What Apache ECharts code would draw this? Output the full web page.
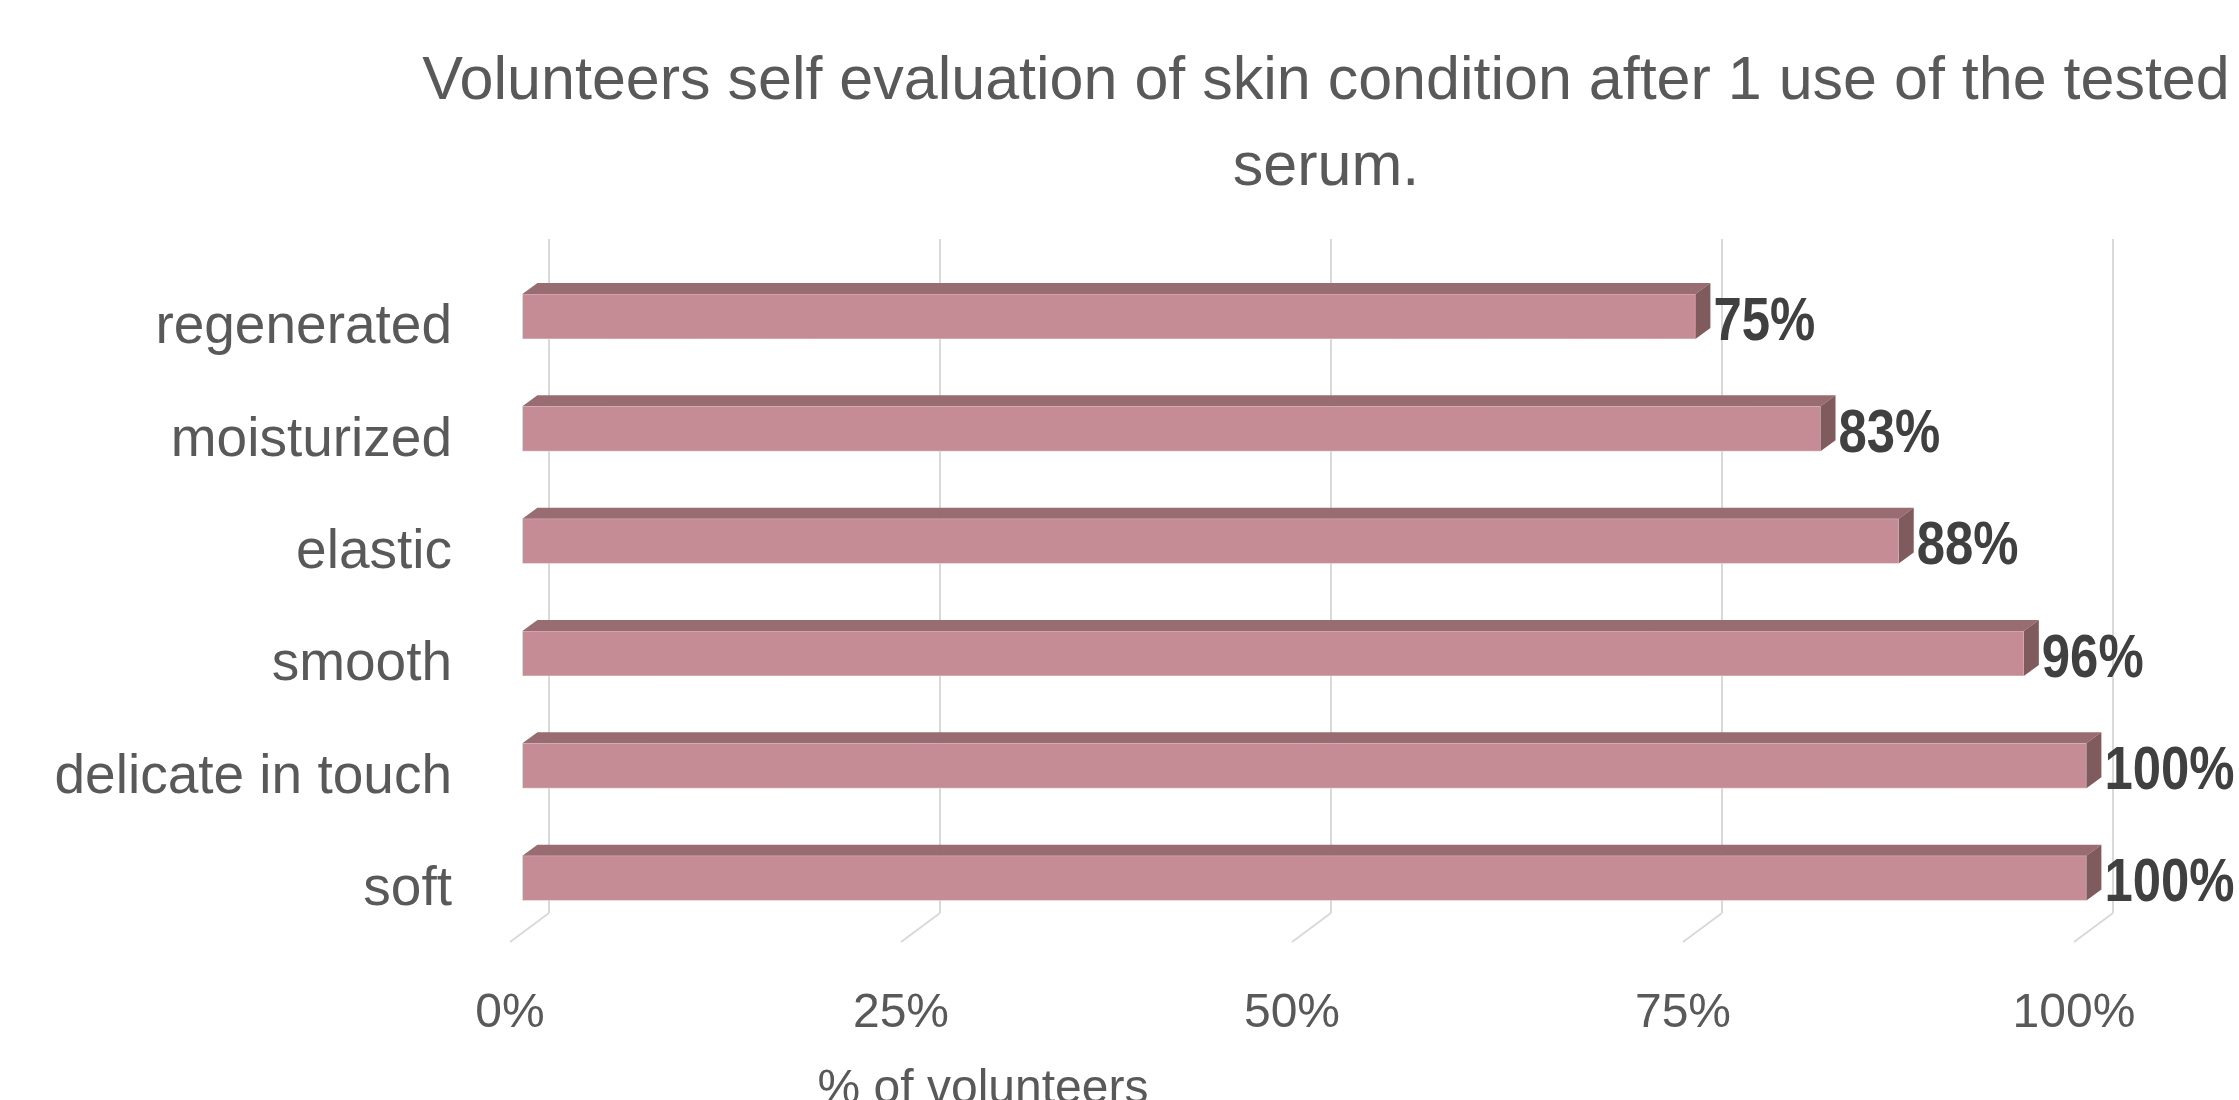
<!DOCTYPE html>
<html>
<head>
<meta charset="utf-8">
<title>Volunteers self evaluation</title>
<script src="https://cdn.jsdelivr.net/npm/echarts@6/dist/echarts.min.js"></script>
<style>
  html, body { margin: 0; padding: 0; background: #fff; }
  #chart { width: 2239px; height: 1100px; }
</style>
</head>
<body>
<div id="chart"></div>
<script>
// bottom to top, like the category axis draws them
const categories = ["soft", "delicate in touch", "smooth", "elastic", "moisturized", "regenerated"];
const percents = [100, 100, 96, 88, 83, 75];
const tickValues = [0, 25, 50, 75, 100];

const FONT = '"Liberation Sans", Arial, sans-serif';
// 3d look: bar depth and where the bars sit in front of the back wall
const DEPTH_X = 15, DEPTH_Y = -11;
const FRONT_X = -26.6, FRONT_Y = 21.3;
const FLOOR_X = -39, FLOOR_Y = 29;

const myChart = echarts.init(document.getElementById("chart"));

function renderBar(params, api) {
  const val = api.value(0);
  const cat = api.value(1);
  const p0 = api.coord([0, cat]);
  const p1 = api.coord([val, cat]);
  const band = api.size([0, 1])[1];
  const h = band * 0.4;
  const x0 = p0[0] + FRONT_X;
  const x1 = p1[0] + FRONT_X;
  const yt = p0[1] + FRONT_Y - h / 2;
  const yb = yt + h;
  return {
    type: "group",
    children: [
      {
        type: "rect",
        shape: { x: x0, y: yt, width: x1 - x0, height: h },
        style: { fill: "#c68c96", stroke: "rgba(255,255,255,0.4)", lineWidth: 1 },
      },
      {
        type: "polygon",
        shape: { points: [[x0, yt], [x1, yt], [x1 + DEPTH_X, yt + DEPTH_Y], [x0 + DEPTH_X, yt + DEPTH_Y]] },
        style: { fill: "#986c70" },
      },
      {
        type: "polygon",
        shape: { points: [[x1, yt], [x1 + DEPTH_X, yt + DEPTH_Y], [x1 + DEPTH_X, yb + DEPTH_Y], [x1, yb]] },
        style: { fill: "#805b5e" },
      },
      {
        // narrow bold label, squeezed like the original
        type: "text",
        x: x1 + DEPTH_X + 3,
        y: (yt + yb) / 2 + 6,
        scaleX: 0.82,
        style: {
          text: val + "%",
          x: 0,
          y: 0,
          align: "left",
          verticalAlign: "middle",
          textAlign: "left",
          textVerticalAlign: "middle",
          fontFamily: FONT,
          fontSize: 62,
          fontWeight: "bold",
          fill: "#404040",
        },
      },
    ],
  };
}

function renderFloor(params, api) {
  const p = api.coord([api.value(0), 0]);
  const yb = params.coordSys.y + params.coordSys.height;
  return {
    type: "line",
    shape: { x1: p[0], y1: yb, x2: p[0] + FLOOR_X, y2: yb + FLOOR_Y },
    style: { stroke: "#d9d9d9", lineWidth: 2 },
  };
}

myChart.setOption({
  animation: false,
  title: {
    text: "Volunteers self evaluation of skin condition after 1 use of the tested\nserum.",
    left: 1321,
    top: 34,
    textAlign: "center",
    textStyle: {
      fontFamily: FONT,
      fontSize: 61,
      fontWeight: "normal",
      color: "#595959",
      lineHeight: 86,
    },
  },
  grid: {
    left: 549,
    right: 126,
    top: 239,
    bottom: 187,
    containLabel: false,
    outerBoundsMode: "none",
  },
  xAxis: {
    type: "value",
    min: 0,
    max: 100,
    interval: 25,
    name: "% of volunteers",
    nameLocation: "middle",
    nameGap: 153,
    nameTextStyle: {
      fontFamily: FONT,
      fontSize: 48,
      color: "#595959",
      padding: [0, 696, 0, 0],
    },
    axisLine: { show: false },
    axisTick: { show: false },
    axisLabel: {
      formatter: "{value}%",
      fontFamily: FONT,
      fontSize: 48,
      color: "#595959",
      margin: 77,
      padding: [0, 78, 0, 0],
    },
    splitLine: {
      show: true,
      lineStyle: { color: "#d9d9d9", width: 2 },
    },
  },
  yAxis: {
    type: "category",
    data: categories,
    axisLine: { show: false },
    axisTick: { show: false },
    axisLabel: {
      fontFamily: FONT,
      fontSize: 55,
      color: "#595959",
      margin: 97,
      verticalAlign: "top",
      lineHeight: 66,
    },
    splitLine: { show: false },
  },
  series: [
    {
      type: "custom",
      renderItem: renderFloor,
      data: tickValues.map((v) => [v, 0]),
      silent: true,
    },
    {
      type: "custom",
      renderItem: renderBar,
      data: percents.map((v, i) => [v, i]),
      encode: { x: 0, y: 1 },
    },
  ],
});

window.addEventListener("resize", () => myChart.resize());
</script>
</body>
</html>
